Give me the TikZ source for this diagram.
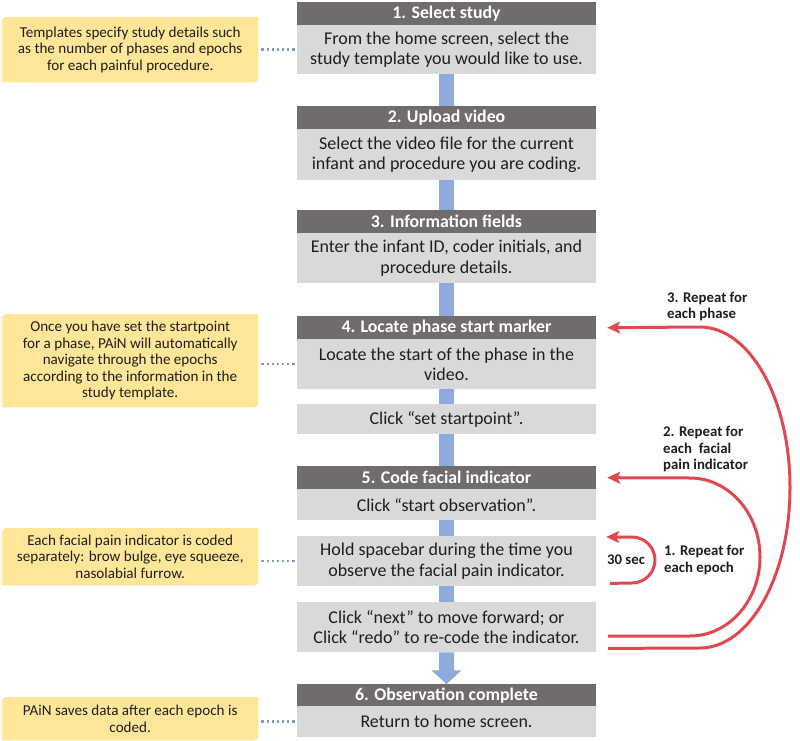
\documentclass[tikz,border=0pt]{standalone}
\usepackage{fontspec}
\setmainfont{Carlito}
\usetikzlibrary{arrows.meta,calc,backgrounds}
\definecolor{hdr}{HTML}{716C6C}
\definecolor{bodyg}{HTML}{D9D9D9}
\definecolor{barblue}{HTML}{8EAADB}
\definecolor{yel}{HTML}{FFE699}
\definecolor{redc}{HTML}{E0474F}
\definecolor{dotc}{HTML}{8497C4}
\definecolor{txt}{HTML}{1E1E1E}
\begin{document}
\begin{tikzpicture}[x=1pt,y=-1pt,
  hdrbox/.style={fill=hdr, text=white, font=\fontsize{17.8}{20}\selectfont\bfseries,
    minimum width=299pt, inner sep=0pt, anchor=north},
  bodybox/.style={fill=bodyg, text=txt, font=\fontsize{18}{20.5}\selectfont,
    minimum width=299pt, inner sep=0pt, anchor=north, align=center},
  callout/.style={text=txt, font=\fontsize{15.1}{16.6}\selectfont, align=center,
    minimum width=256pt, inner sep=0pt, anchor=north west},
  bluebar/.style={draw=barblue, line width=15pt},
  dotline/.style={draw=dotc, line width=2.5pt, dash pattern=on 2.5pt off 2.6pt},
  redarrow/.style={draw=redc, line width=3pt, -{Stealth[length=13pt,width=12pt,inset=3pt]}},
  redlabel/.style={text=txt, font=\fontsize{14.8}{16.5}\selectfont\bfseries, align=left,
    inner sep=0pt, anchor=west}
]
\useasboundingbox (0,0) rectangle (800,741);

% main column
\node[hdrbox, minimum height=23pt] (h1) at (446.5,2) {1. Select study};
\node[bodybox, minimum height=49pt] (b1) at (446.5,25) {From the home screen, select the\\study template you would like to use.};
\node[hdrbox, minimum height=23pt] (h2) at (446.5,106) {2. Upload video};
\node[bodybox, minimum height=51pt] (b2) at (446.5,129) {Select the video file for the current\\infant and procedure you are coding.};
\node[hdrbox, minimum height=23pt] (h3) at (446.5,210) {3. Information fields};
\node[bodybox, minimum height=50pt] (b3) at (446.5,233) {Enter the infant ID, coder initials, and\\procedure details.};
\node[hdrbox, minimum height=23pt] (h4) at (446.5,316) {4. Locate phase start marker};
\node[bodybox, minimum height=50pt] (b4) at (446.5,339) {Locate the start of the phase in the\\video.};
\node[bodybox, minimum height=30pt] (b4b) at (446.5,404) {Click “set startpoint”.};
\node[hdrbox, minimum height=23pt] (h5) at (446.5,466) {5. Code facial indicator};
\node[bodybox, minimum height=31pt] (b5) at (446.5,489) {Click “start observation”.};
\node[bodybox, minimum height=50pt] (b5b) at (446.5,536) {Hold spacebar during the time you\\observe the facial pain indicator.};
\node[bodybox, minimum height=50pt] (b5c) at (446.5,602) {Click “next” to move forward; or\\Click “redo” to re-code the indicator.};
\node[hdrbox, minimum height=22pt] (h6) at (446.5,684) {6. Observation complete};
\node[bodybox, minimum height=31pt] (b6) at (446.5,706) {Return to home screen.};

% blue connectors
\draw[bluebar] (b1.south) -- (h2.north);
\draw[bluebar] (b2.south) -- (h3.north);
\draw[bluebar] (b3.south) -- (h4.north);
\draw[bluebar] (b4.south) -- (b4b.north);
\draw[bluebar] (b4b.south) -- (h5.north);
\draw[bluebar] (b5.south) -- (b5b.north);
\draw[bluebar] (b5b.south) -- (b5c.north);
\fill[barblue] ($(b5c.south)+(-7.5,0)$) -- ($(b5c.south)+(-7.5,18)$) -- ($(b5c.south)+(-15,18)$)
  -- (h6.north) -- ($(b5c.south)+(15,18)$) -- ($(b5c.south)+(7.5,18)$) -- ($(b5c.south)+(7.5,0)$) -- cycle;

% callouts
\node[callout, minimum height=65pt] (c1) at (2,17) {Templates specify study details such\\as the number of phases and epochs\\for each painful procedure.};
\node[callout, minimum height=93pt] (c2) at (2,314) {Once you have set the startpoint\\for a phase, PAiN will automatically\\navigate through the epochs\\according to the information in the\\study template.};
\node[callout, minimum height=57pt] (c3) at (2,528) {Each facial pain indicator is coded\\separately: brow bulge, eye squeeze,\\nasolabial furrow.};
\node[callout, minimum height=43pt] (c4) at (2,697) {PAiN saves data after each epoch is\\coded.};
\begin{scope}[on background layer]
\foreach \c in {c1,c2,c3,c4}{
  \fill[yel] (\c.south west) -- ($(\c.north west)+(0,9)$) .. controls (\c.north west) .. ($(\c.north west)+(9,0)$)
    -- (\c.north east) -- ($(\c.south east)+(0,-9)$) .. controls (\c.south east) .. ($(\c.south east)+(-9,0)$) -- cycle;
}
\end{scope}

% dotted connectors
\draw[dotline] ($(c1.east)+(3,0)$) -- (b1.west);
\draw[dotline] (b4.west -| c2.east) ++(3,0) -- (b4.west);
\draw[dotline] (b5b.west -| c3.east) ++(3,0) -- (b5b.west);
\draw[dotline] (b6.west -| c4.east) ++(3,0) -- (b6.west);

% red loops
\draw[redarrow] ($(b5c.south east)+(12,-4)$) -- (700,648) arc[start angle=90, end angle=-90, x radius=90, y radius=160.5] -- ($(h4.east)+(11,0)$);
\draw[redarrow] ($(b5c.east)+(12,9)$) -- (690,636) arc[start angle=90, end angle=-90, x radius=70, y radius=79] -- ($(h5.east)+(11,0)$);
\draw[redarrow] ($(b5b.south east)+(14,-3)$) -- (632,583) arc[start angle=90, end angle=-90, radius=23] -- ($(b5b.north east)+(10,1)$);

\node[redlabel] (l3) at (667,306.5) {3. Repeat for\\each phase};
\node[redlabel] (l2) at (663,449.5) {2. Repeat for\\each\ \ facial\\pain indicator};
\node[redlabel] (l1) at (664,560) {1. Repeat for\\each epoch};
\node[text=txt, font=\fontsize{14.8}{16}\selectfont\bfseries, inner sep=0pt] (t30) at (626,560) {30 sec};
\end{tikzpicture}
\end{document}
